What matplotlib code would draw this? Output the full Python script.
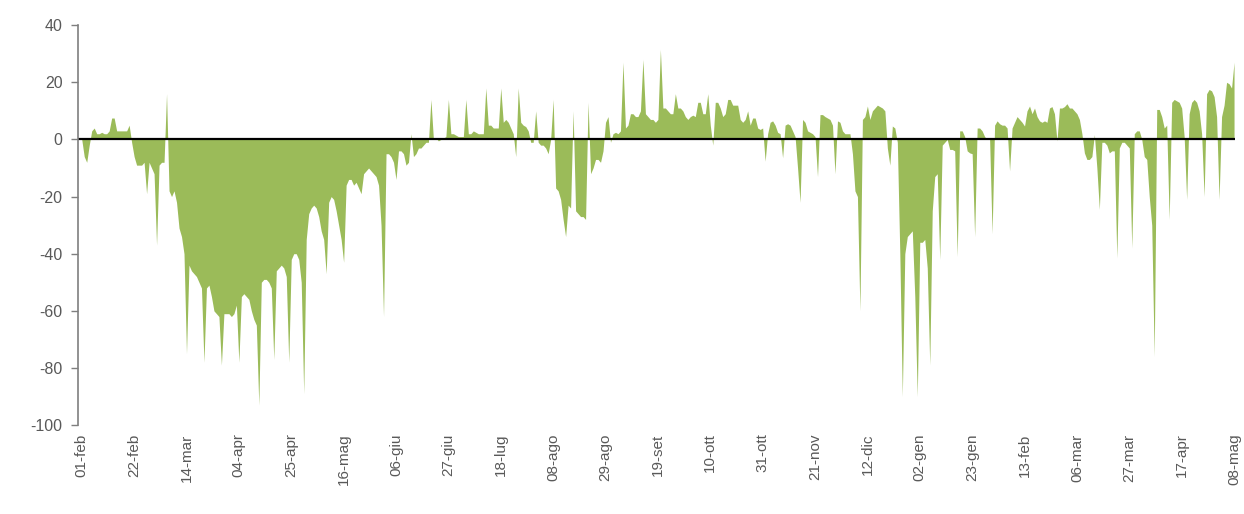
import numpy as np
import matplotlib
matplotlib.use("Agg")
from matplotlib import pyplot as plt

# valori giornalieri, dal 01-feb-2020 all'08-mag-2021
valori = [
    0, -6, -8, -2, 3, 4, 2, 2, 2.5, 2,
    2, 3, 7.5, 7.5, 3, 3, 3, 3, 3, 5,
    -1, -6, -9, -9, -9, -8, -19, -8, -10, -12,
    -37, -9, -8, -8, 16, -18, -20, -18, -22, -31,
    -34, -40, -75, -44, -46, -47, -48, -50, -52, -78,
    -52, -51, -55, -60, -61, -62, -79, -61, -61, -61,
    -62, -61, -58, -78, -55, -54, -55, -56, -60, -63,
    -65, -93, -50, -49, -49, -50, -52, -77, -46, -45,
    -44, -45, -48, -78, -42, -40, -40, -42, -50, -89,
    -35, -26, -24, -23, -24, -27, -32, -35, -47, -22,
    -20, -21, -25, -30, -35, -43, -16, -14, -14, -16,
    -15, -17, -19, -12, -11, -10, -11, -12, -13, -16,
    -30, -62, -5, -5, -6, -8, -14, -4, -4, -5,
    -9, -8, 2, -6, -5, -3, -3, -2, -1, -1,
    14, 0, 0.5, -0.5, 0, 0.5, 1, 14, 2, 2,
    1.5, 1, 1, 1, 14, 2, 2, 3, 2.5, 2,
    2, 2, 18, 5, 5, 4, 4, 4, 18, 6,
    7, 6, 4, 2, -6, 18, 6, 5, 4.5, 3,
    -1, -1, 10, -1, -2, -2, -3, -5, 0, 14,
    -17, -18, -21, -28, -34, -23, -24, 10, -25, -26,
    -27, -27, -28, 13, -12, -10, -7, -7, -8, -4,
    6, 8, -1, 2, 2.5, 2, 3, 27, 4, 5,
    9, 9, 8, 8, 10, 28, 9, 8, 7, 7,
    6, 7, 31.5, 11, 11, 10, 9, 9, 16, 11,
    11, 10, 8, 7, 8, 8.5, 8, 13, 13, 9,
    9, 16, 5, -2, 13, 13, 11, 8, 9, 14,
    14, 12, 12, 12, 7, 6, 7, 10, 5, 7.5,
    7.5, 4, 3.5, 4, -7.6, 2, 6, 6.5, 5, 2.5,
    2, -6.4, 5, 5.5, 5, 3, 1, -10, -22, 7,
    6, 3, 2.5, 2, 1, -13, 8.7, 8.7, 8, 7.5,
    7, 5, -12, 6.5, 6, 3, 2, 2, 2, -5,
    -18, -20, -60, 7, 8, 11.7, 7, 10, 11, 12,
    11.5, 11, 10, -3, -9, 4.7, 4, -1, -40, -90,
    -40, -34, -33, -32, -55, -90, -36, -36, -35, -45,
    -79, -25, -13, -12, -42, -2, -1, 0, -3.5, -3.5,
    -4, -41, 3, 3, 1, -4, -4.7, -5, -34, 4,
    4, 3, 1, 0, 0, -33, 5, 6.5, 5.5, 5,
    5, 4, -11, 4, 6, 8, 7, 6, 4.7, 10,
    11.7, 9, 11, 8, 6.5, 6, 6.5, 6, 11, 11.5,
    9, -0.5, 11, 11, 11.5, 12.5, 11, 11, 10, 9,
    7, 2, -4.7, -7, -7, -6, 1.7, -10, -24.5, -1,
    -1, -2, -4.7, -4, -4, -41.5, -3, -1, -1, -2,
    -3, -38, 2, 3, 3, 0, -6, -7, -20, -30,
    -76, 10.5, 10.5, 8, 4, 5, -28, 13, 14, 13.5,
    13, 11, 1, -21, 9, 13, 14, 13, 10, 2,
    -20, 16, 17.5, 17, 15, 8, -21, 8, 12, 20,
    19.5, 18, 27,
]

etichette = ['01-feb', '22-feb', '14-mar', '04-apr', '25-apr', '16-mag',
             '06-giu', '27-giu', '18-lug', '08-ago', '29-ago', '19-set',
             '10-ott', '31-ott', '21-nov', '12-dic', '02-gen', '23-gen',
             '13-feb', '06-mar', '27-mar', '17-apr', '08-mag']
passo = 21  # giorni tra due etichette

yticks = [40, 20, 0, -20, -40, -60, -80, -100]

giorni = np.arange(len(valori))
valori = np.array(valori)

plt.rcParams['font.family'] = ['Liberation Sans', 'DejaVu Sans']
plt.rcParams['axes.unicode_minus'] = False

fig = plt.figure(figsize=(12.44, 5.14), dpi=100)
ax = fig.add_axes([0.0627, 0.173, 0.9303, 0.778])

# area verde
ax.fill_between(giorni, valori, 0, color='#9BBB59', linewidth=0)

# linea dello zero
ax.axhline(0, color='black', linewidth=1.6)

ax.set_xlim(-1.5, len(valori) - 0.5)
ax.set_ylim(-100, 40)

ax.set_xticks(np.arange(len(etichette)) * passo)
ax.set_xticklabels(etichette, rotation=90, fontsize=11, color='#595959')
ax.tick_params(axis='x', length=0, pad=6)

ax.set_yticks(yticks)
ax.set_yticklabels([str(v) for v in yticks], fontsize=11.5, color='#595959')
ax.tick_params(axis='y', length=5, width=1, color='#7f7f7f', pad=6)

for lato in ['top', 'right', 'bottom']:
    ax.spines[lato].set_visible(False)
ax.spines['left'].set_color('#7f7f7f')
ax.spines['left'].set_linewidth(1.2)

fig.savefig('out.png', dpi=100)
